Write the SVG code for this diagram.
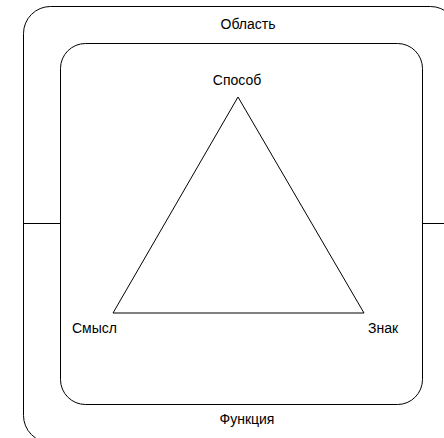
<svg xmlns="http://www.w3.org/2000/svg" width="444" height="438" viewBox="0 0 444 438">
<style>
.s{fill:none;stroke:#000;stroke-width:1}
text{font-family:"Liberation Sans",Arial,sans-serif;font-size:14px;fill:#000}
</style>
<rect width="444" height="438" fill="#fff"/>
<g id="oblast">
<rect class="s" x="23.5" y="6.5" width="434" height="436" rx="27" ry="27"/>
<text x="248" y="29" text-anchor="middle">Область</text>
<text x="247" y="424" text-anchor="middle">Функция</text>
</g>
<g id="inner">
<rect class="s" x="60.5" y="43.5" width="362" height="361" rx="25" ry="25"/>
</g>
<g id="triangle">
<polygon class="s" points="238,97 113,313 364,313"/>
</g>
<g id="sposob"><text x="237" y="85" text-anchor="middle">Способ</text></g>
<g id="smysl"><text x="72" y="333">Смысл</text></g>
<g id="znak"><text x="368" y="333">Знак</text></g>
<g id="connectors">
<line class="s" x1="23" y1="223.5" x2="60" y2="223.5"/>
<line class="s" x1="423" y1="223.5" x2="444" y2="223.5"/>
</g>
</svg>
